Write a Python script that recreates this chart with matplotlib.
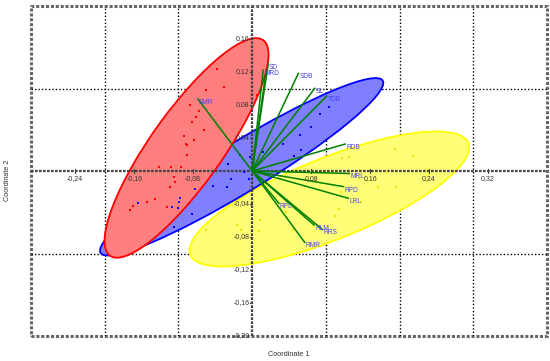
import matplotlib
matplotlib.use("Agg")
import matplotlib.pyplot as plt
from matplotlib.patches import Ellipse

plt.rcParams["font.family"] = ["Liberation Sans", "DejaVu Sans"]

# ---------------- data ----------------
red_x = [-0.0474, -0.0379, -0.0628, 0.0063, -0.0845, -0.0725, -0.0763, -0.0820, -0.0657,
         -0.0921, -0.0786, -0.0898, -0.0883, -0.0889, -0.1263, -0.1104, -0.0970, -0.0480,
         -0.1066, -0.1043, -0.1113, -0.1317, -0.1431, -0.1614, -0.1661, -0.1157]
red_y = [0.1241, 0.1018, 0.0978, 0.0918, 0.0795, 0.0722, 0.0655, 0.0594, 0.0499,
         0.0423, 0.0370, 0.0330, 0.0318, 0.0188, 0.0046, 0.0046, 0.0046, 0.0046,
         -0.0076, -0.0128, -0.0198, -0.0339, -0.0379, -0.0421, -0.0473, -0.0441]

blue_x = [0.1048, 0.0917, 0.0799, 0.0645, 0.0413, 0.0150, 0.0664, 0.0568, -0.0033, -0.0162,
          -0.0331, -0.0114, -0.0042, -0.0282, -0.0341, -0.0537, -0.0773, -0.0811, -0.1086,
          -0.0991, -0.0980, -0.1547, -0.1066, -0.1000]
blue_y = [0.0776, 0.0695, 0.0533, 0.0436, 0.0330, 0.0228, 0.0252, 0.0176, 0.0167, 0.0188,
          0.0079, -0.0015, -0.0097, -0.0097, -0.0198, -0.0177, -0.0218, -0.0521, -0.0441,
          -0.0379, -0.0331, -0.0388, -0.0684, -0.0452]

yellow_x = [0.1939, 0.2185, 0.1217, 0.1312, 0.1830, 0.1449, 0.1708, 0.1953, 0.1203, 0.1476,
            0.1176, 0.1122, 0.0454, 0.0713, 0.0113, -0.0200, -0.0146, 0.0099, 0.0549, -0.0623]
yellow_y = [0.0267, 0.0182, 0.0158, 0.0170, -0.0012, -0.0085, -0.0194, -0.0194, -0.0255, -0.0376,
            -0.0461, -0.0545, -0.0497, -0.0558, -0.0594, -0.0655, -0.0715, -0.0727, -0.0715, -0.0715]

loading_names = ["SD", "", "MRD", "SDB", "SL", "TDB", "RDB", "MRL", "RPD", "LRL",
                 "RPL", "RLM", "RRS", "RMR", "SMR"]
loading_x = [0.0218, 0.0191, 0.0150, 0.0627, 0.0849, 0.1013, 0.1262, 0.1317, 0.1240, 0.1303,
             0.0363, 0.0840, 0.0954, 0.0713, -0.0736]
loading_y = [0.1297, 0.1224, 0.1224, 0.1184, 0.1002, 0.0909, 0.0327, -0.0030, -0.0190, -0.0330,
             -0.0392, -0.0655, -0.0710, -0.0865, 0.0873]

# ellipses: centre x, centre y, semi-major, semi-minor, angle (deg)
red_ellipse = [-0.089, 0.028, 0.167, 0.047, 51.0]
blue_ellipse = [-0.0142, 0.0051, 0.218, 0.031, 28.5]
yellow_ellipse = [0.1047, -0.0339, 0.2005, 0.050, 19.5]

xtick_vals = [-0.24, -0.16, -0.08, 0.08, 0.16, 0.24, 0.32]
ytick_vals = [0.16, 0.12, 0.08, 0.04, -0.04, -0.08, -0.12, -0.16, -0.20]
xgrid_vals = [-0.2, -0.1, 0.1, 0.2, 0.3]
ygrid_vals = [-0.1, 0.1]

# ---------------- figure ----------------
fig = plt.figure(figsize=(5.5, 3.61), dpi=100)
ax = fig.add_axes([31/550, 1-336/361, (547-31)/550, (336-6)/361])
ax.set_xlim(-0.30, 0.40)
ax.set_ylim(-0.20, 0.20)
ax.set_xticks([])
ax.set_yticks([])
for s in ax.spines.values():
    s.set_visible(False)

# frame (thick dotted grey)
ax.plot([-0.30, 0.40, 0.40, -0.30, -0.30], [-0.20, -0.20, 0.20, 0.20, -0.20],
        color="#666666", lw=2.2, ls=(0, (1, 0.6)), clip_on=False, zorder=1)

# grid
for gx in xgrid_vals:
    ax.axvline(gx, color="black", lw=1.0, ls=(0, (1, 1.5)), zorder=1)
for gy in ygrid_vals:
    ax.axhline(gy, color="black", lw=1.0, ls=(0, (1, 1.5)), zorder=1)

# ellipses
for params, fc, ec in [(yellow_ellipse, "#ffff77", "#ffff00"),
                       (blue_ellipse, "#7f7fff", "#0000ff"),
                       (red_ellipse, "#ff7f7f", "#ff0000")]:
    cx, cy, a, b, ang = params
    ax.add_patch(Ellipse((cx, cy), 2*a, 2*b, angle=ang, facecolor=fc,
                         edgecolor=ec, lw=1.3, zorder=2))

# axes through origin
ax.axhline(0, color="#444444", lw=1.6, ls=(0, (1.2, 0.6)), zorder=3)
ax.axvline(0, color="#444444", lw=1.6, ls=(0, (1.2, 0.6)), zorder=3)

# tick marks & labels on the zero axes
def fmt(v):
    return ("%.2f" % v).replace(".", ",")

for xv in xtick_vals:
    ax.plot([xv, xv], [-0.0025, 0.0025], color="#444444", lw=0.8, zorder=3)
    ax.annotate(fmt(xv), (xv, 0), xytext=(0, -3), textcoords="offset points",
                ha="center", va="top", fontsize=5.0, color="#333333", zorder=6)
for yv in ytick_vals:
    ax.plot([-0.003, 0.0], [yv, yv], color="#444444", lw=0.8, zorder=3)
    ax.annotate(fmt(yv), (0, yv), xytext=(-2, 0), textcoords="offset points",
                ha="right", va="center", fontsize=5.0, color="#333333", zorder=6)

# points
ax.plot(red_x, red_y, "s", color="#ff0000", ms=1.8, mew=0, zorder=4)
ax.plot(blue_x, blue_y, "s", color="#0000ff", ms=1.8, mew=0, zorder=4)
ax.plot(yellow_x, yellow_y, "s", color="#e6e600", ms=1.8, mew=0, zorder=4)

# loadings
for name, lx, ly in zip(loading_names, loading_x, loading_y):
    ax.plot([0, lx], [0, ly], color="#008000", lw=1.1, zorder=5)
    if name:
        ax.annotate(name, (lx, ly), xytext=(0.7, -2.4), textcoords="offset points",
                    ha="left", va="center", fontsize=4.8, color="#4444ee", zorder=6)

fig.text(289/550, 1-355/361, "Coordinate 1", ha="center", va="center",
         fontsize=5.2, color="#333333")
fig.text(8/550, 1-180/361, "Coordinate 2", ha="center", va="center",
         rotation=90, fontsize=5.2, color="#333333")

fig.savefig("out.png", dpi=100)
